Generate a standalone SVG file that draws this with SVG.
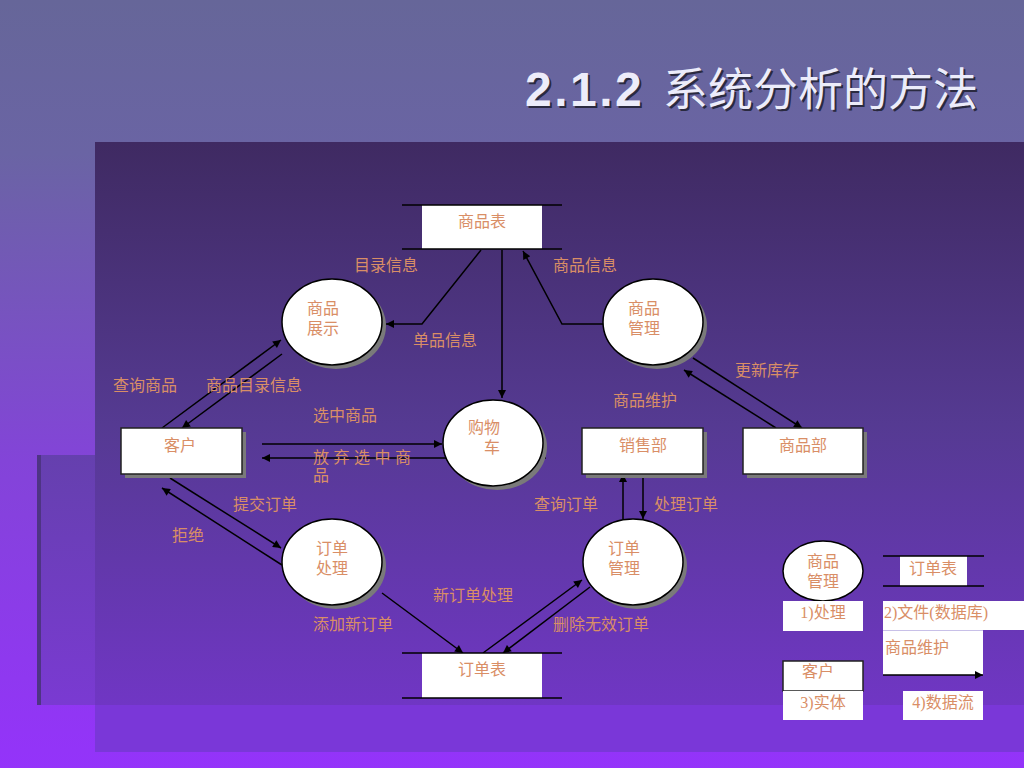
<svg xmlns="http://www.w3.org/2000/svg" width="1024" height="768" viewBox="0 0 1024 768">
<defs>
<linearGradient id="bg" x1="0" y1="0" x2="0" y2="1">
<stop offset="0" stop-color="#666699"/>
<stop offset="0.2" stop-color="#6a64a4"/>
<stop offset="0.6" stop-color="#8344d8"/>
<stop offset="1" stop-color="#9433fa"/>
</linearGradient>
<linearGradient id="panel" x1="0" y1="142" x2="0" y2="705" gradientUnits="userSpaceOnUse">
<stop offset="0" stop-color="#3f2a62"/>
<stop offset="0.5" stop-color="#553a92"/>
<stop offset="1" stop-color="#7036c4"/>
</linearGradient>
<linearGradient id="lpanel" x1="0" y1="455" x2="0" y2="705" gradientUnits="userSpaceOnUse">
<stop offset="0" stop-color="#6540ae"/>
<stop offset="1" stop-color="#7a3ad2"/>
</linearGradient>
<marker id="ah" viewBox="0 0 10 10" refX="10" refY="5" markerWidth="11" markerHeight="8" orient="auto" markerUnits="userSpaceOnUse">
<path d="M0,0 L10,5 L0,10 z" fill="#000"/>
</marker>
</defs>
<style>
.lbl{font-family:"Liberation Serif","Noto Sans CJK SC",serif;font-size:16px;fill:#d98e66}
.ctr{text-anchor:middle}
.ln{stroke:#000;stroke-width:1.5;fill:none}
.arr{stroke:#000;stroke-width:1.5;fill:none;marker-end:url(#ah)}
.wht{fill:#fff}
.ent{fill:#fff;stroke:#222;stroke-width:1.5}
.shd{fill:#7a7a7a}
.ell{fill:#fff;stroke:#000;stroke-width:1.5}
.title{font-size:45px;fill:#ececfa}
.tshd{font-size:45px;fill:#2a2a40}
.num{font-family:"Liberation Sans",Arial,sans-serif;font-weight:bold;font-size:48px;letter-spacing:2.5px}
.cjk{font-family:"Noto Sans CJK SC",sans-serif}
</style>

<!-- background -->
<rect x="0" y="0" width="1024" height="768" fill="url(#bg)"/>
<rect x="37" y="455" width="58" height="250" fill="url(#lpanel)"/>
<rect x="37" y="455" width="4" height="250" fill="#4e3484"/>
<rect x="95" y="142" width="929" height="563" fill="url(#panel)"/>
<rect x="95" y="705" width="929" height="47" fill="#7a37d8"/>

<!-- title -->
<g id="title">
<text x="527" y="108" class="tshd"><tspan class="num">2.1.2 </tspan><tspan x="665" class="cjk">系统分析的方法</tspan></text>
<text x="525" y="106" class="title"><tspan class="num">2.1.2 </tspan><tspan x="663" class="cjk">系统分析的方法</tspan></text>
</g>

<!-- connectors -->
<g id="connectors">
<polyline class="arr" points="481,250 422,324 386,324"/>
<line class="arr" x1="502" y1="250" x2="502" y2="398"/>
<polyline class="arr" points="603,324 562,324 523,251"/>
<line class="arr" x1="693" y1="358" x2="802" y2="428"/>
<line class="arr" x1="776" y1="428" x2="684" y2="370"/>
<line class="arr" x1="162" y1="428" x2="281" y2="340"/>
<line class="arr" x1="282" y1="354" x2="182" y2="428"/>
<line class="arr" x1="262" y1="444" x2="442" y2="444"/>
<line class="arr" x1="546" y1="458" x2="262" y2="458"/>
<line class="arr" x1="170" y1="478" x2="281" y2="548"/>
<line class="arr" x1="282" y1="565" x2="162" y2="488"/>
<line class="arr" x1="382" y1="593" x2="463" y2="653"/>
<line class="arr" x1="483" y1="653" x2="582" y2="580"/>
<line class="arr" x1="590" y1="587" x2="503" y2="653"/>
<line class="arr" x1="623" y1="519" x2="623" y2="474"/>
<line class="arr" x1="643" y1="474" x2="643" y2="519"/>
</g>

<!-- data stores -->
<g id="store-goods">
<rect class="wht" x="422" y="205" width="120" height="44"/>
<line class="ln" x1="402" y1="205" x2="562" y2="205"/>
<line class="ln" x1="402" y1="249" x2="562" y2="249"/>
<text class="lbl ctr" x="482" y="227">商品表</text>
</g>
<g id="store-orders">
<rect class="wht" x="422" y="653" width="120" height="45"/>
<line class="ln" x1="402" y1="653" x2="562" y2="653"/>
<line class="ln" x1="402" y1="698" x2="562" y2="698"/>
<text class="lbl ctr" x="482" y="675">订单表</text>
</g>

<!-- processes -->
<g id="proc-display">
<ellipse class="shd" cx="336" cy="326" rx="50" ry="43"/>
<ellipse class="ell" cx="332" cy="322" rx="50" ry="43"/>
<text class="lbl ctr" x="323" y="314">商品</text>
<text class="lbl ctr" x="323" y="334">展示</text>
</g>
<g id="proc-cart">
<ellipse class="shd" cx="497" cy="447" rx="50" ry="43"/>
<ellipse class="ell" cx="493" cy="443" rx="50" ry="43"/>
<text class="lbl ctr" x="484" y="433">购物</text>
<text class="lbl ctr" x="492" y="453">车</text>
</g>
<g id="proc-goodsmgmt">
<ellipse class="shd" cx="657" cy="326" rx="50" ry="43"/>
<ellipse class="ell" cx="653" cy="322" rx="50" ry="43"/>
<text class="lbl ctr" x="644" y="314">商品</text>
<text class="lbl ctr" x="644" y="334">管理</text>
</g>
<g id="proc-order">
<ellipse class="shd" cx="336" cy="566" rx="50" ry="43"/>
<ellipse class="ell" cx="332" cy="562" rx="50" ry="43"/>
<text class="lbl ctr" x="332" y="554">订单</text>
<text class="lbl ctr" x="332" y="574">处理</text>
</g>
<g id="proc-ordermgmt">
<ellipse class="shd" cx="637" cy="566" rx="50" ry="43"/>
<ellipse class="ell" cx="633" cy="562" rx="50" ry="43"/>
<text class="lbl ctr" x="624" y="554">订单</text>
<text class="lbl ctr" x="624" y="574">管理</text>
</g>

<!-- entities -->
<g id="ent-customer">
<rect class="shd" x="125" y="432" width="121" height="46"/>
<rect class="ent" x="121" y="428" width="121" height="46"/>
<text class="lbl ctr" x="180" y="451">客户</text>
</g>
<g id="ent-sales">
<rect class="shd" x="586" y="432" width="121" height="46"/>
<rect class="ent" x="582" y="428" width="121" height="46"/>
<text class="lbl ctr" x="643" y="451">销售部</text>
</g>
<g id="ent-goodsdept">
<rect class="shd" x="747" y="432" width="120" height="46"/>
<rect class="ent" x="743" y="428" width="120" height="46"/>
<text class="lbl ctr" x="803" y="451">商品部</text>
</g>

<!-- flow labels -->
<g id="labels">
<text class="lbl" x="354" y="271">目录信息</text>
<text class="lbl" x="553" y="271">商品信息</text>
<text class="lbl" x="413" y="346">单品信息</text>
<text class="lbl" x="113" y="391">查询商品</text>
<text class="lbl" x="206" y="391">商品目录信息</text>
<text class="lbl" x="313" y="421">选中商品</text>
<text class="lbl" x="313" y="463" letter-spacing="4.5">放弃选中商</text>
<text class="lbl" x="313" y="481">品</text>
<text class="lbl" x="735" y="376">更新库存</text>
<text class="lbl" x="613" y="406">商品维护</text>
<text class="lbl" x="233" y="510">提交订单</text>
<text class="lbl" x="172" y="541">拒绝</text>
<text class="lbl" x="433" y="601">新订单处理</text>
<text class="lbl" x="313" y="630">添加新订单</text>
<text class="lbl" x="534" y="510">查询订单</text>
<text class="lbl" x="654" y="510">处理订单</text>
<text class="lbl" x="553" y="630">删除无效订单</text>
</g>

<!-- legend -->
<g id="legend-process">
<ellipse class="ell" cx="823" cy="571" rx="40" ry="30"/>
<text class="lbl ctr" x="823" y="567">商品</text>
<text class="lbl ctr" x="823" y="587">管理</text>
<rect class="wht" x="783" y="601" width="80" height="30"/>
<text class="lbl ctr" x="823" y="618">1)处理</text>
</g>
<g id="legend-store">
<rect class="wht" x="900" y="556" width="67" height="30"/>
<line class="ln" x1="883" y1="556" x2="984" y2="556"/>
<line class="ln" x1="883" y1="586" x2="984" y2="586"/>
<text class="lbl ctr" x="933" y="574">订单表</text>
<rect class="wht" x="883" y="601" width="141" height="29"/>
<text class="lbl" x="884" y="618">2)文件(数据库)</text>
</g>
<g id="legend-entity">
<rect class="ent" x="783" y="661" width="80" height="30"/>
<text class="lbl ctr" x="818" y="677">客户</text>
<rect class="wht" x="783" y="691" width="80" height="29"/>
<text class="lbl ctr" x="823" y="708">3)实体</text>
</g>
<g id="legend-flow">
<rect class="wht" x="883" y="631" width="100" height="44"/>
<line x1="883" y1="630.5" x2="983" y2="630.5" stroke="#c8c0e8" stroke-width="1"/>
<text class="lbl" x="885" y="653">商品维护</text>
<line class="arr" x1="883" y1="675" x2="983" y2="675"/>
<rect class="wht" x="903" y="691" width="80" height="29"/>
<text class="lbl ctr" x="943" y="708">4)数据流</text>
</g>
</svg>
